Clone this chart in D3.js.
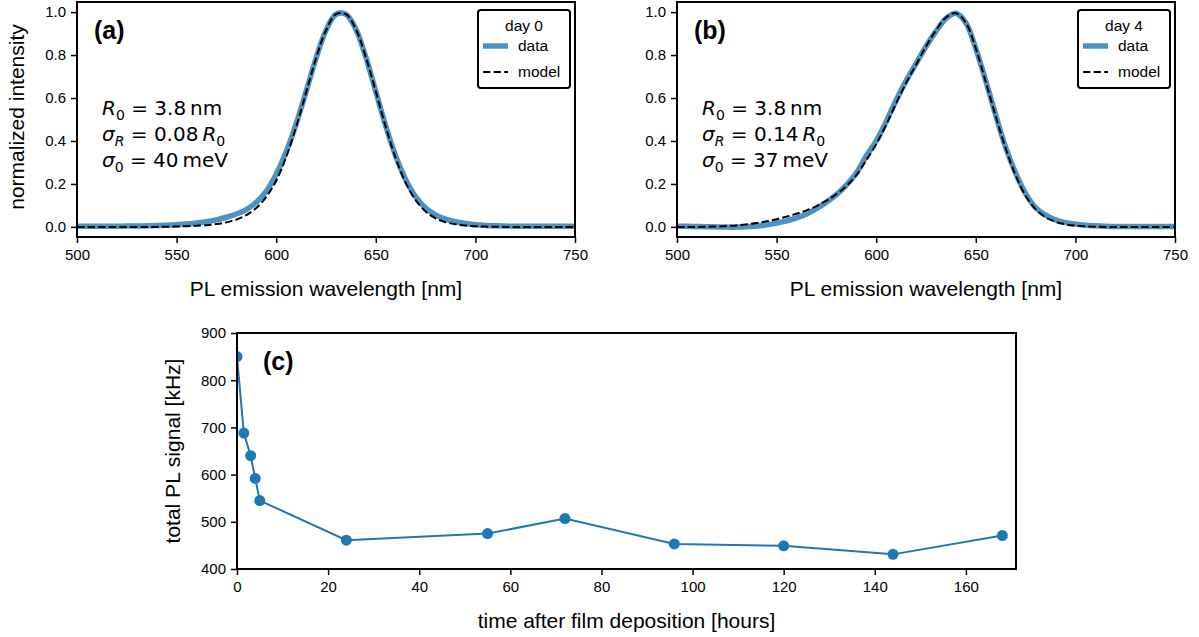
<!DOCTYPE html>
<html>
<head>
<meta charset="utf-8">
<script src="https://cdn.jsdelivr.net/npm/d3@7"></script>
<style>
  body { margin: 0; background: #fff; }
  svg { display: block; }
  text { font-family: "Liberation Sans", Arial, sans-serif; fill: #000; }
  .tick text { font-size: 15px; }
  .tick line { stroke-width: 1.5px; }
  .spine { fill: none; stroke: #000; stroke-width: 2px; }
  .math { font-family: "DejaVu Sans", sans-serif; font-size: 20px; }
</style>
</head>
<body>
<svg width="1199" height="637"></svg>
<script>
// wavelength grid [nm] shared by the spectra
var wavelengths = d3.range(500, 751, 5)

// day 0 spectrum (panel a)
var day0Data = [0.003,0.003,0.003,0.003,0.003,0.004,0.004,0.005,0.006,0.008,
                0.010,0.013,0.018,0.024,0.033,0.045,0.060,0.080,0.115,0.165,
                0.245,0.350,0.480,0.630,0.785,0.915,0.990,0.990,0.920,0.790,
                0.630,0.470,0.330,0.220,0.140,0.088,0.056,0.036,0.024,0.016,
                0.010,0.007,0.005,0.004,0.003,0.003,0.003,0.003,0.003,0.003,0.003]
var day0Model = [0,0,0,0,0,0,0,0,0,0.001,
                 0.002,0.003,0.005,0.008,0.013,0.021,0.034,0.055,0.088,0.140,
                 0.215,0.325,0.465,0.625,0.785,0.915,0.990,0.990,0.920,0.790,
                 0.630,0.465,0.320,0.205,0.125,0.072,0.040,0.022,0.012,0.006,
                 0.003,0.0015,0.001,0,0,0,0,0,0,0,0]

// day 4 spectrum (panel b)
var day4Data = [0.003,0.003,0.002,0.001,0.000,-0.001,-0.001,0.001,0.004,0.010,
                0.018,0.028,0.042,0.060,0.085,0.115,0.150,0.195,0.250,0.330,
                0.400,0.490,0.590,0.680,0.760,0.840,0.910,0.970,0.995,0.950,
                0.830,0.680,0.520,0.370,0.250,0.155,0.090,0.055,0.033,0.020,
                0.013,0.008,0.005,0.003,0.002,0.002,0.002,0.002,0.002,0.002,0.002]
var day4Model = [0,0,0,0.001,0.002,0.004,0.007,0.012,0.018,0.026,
                 0.036,0.048,0.061,0.077,0.097,0.122,0.152,0.190,0.240,0.310,
                 0.385,0.475,0.575,0.670,0.755,0.840,0.915,0.975,0.995,0.950,
                 0.830,0.675,0.515,0.365,0.240,0.145,0.083,0.045,0.024,0.012,
                 0.006,0.003,0.001,0,0,0,0,0,0,0,0]

// total PL signal vs time (panel c)
var hours = [0, 1.5, 3, 4, 5, 24, 55, 72, 96, 120, 144, 168]
var signal = [850, 688, 640, 592, 545, 461, 475, 507, 453, 449, 431, 471]

var spectrumTicksY = [0, 0.2, 0.4, 0.6, 0.8, 1.0]
var spectrumTicksX = [500, 550, 600, 650, 700, 750]
var timeTicksX = [0, 20, 40, 60, 80, 100, 120, 140, 160]
var signalTicksY = [400, 500, 600, 700, 800, 900]

var dataColor = '#4c92c3',
    lineColor = '#1f77b4'

var svg = d3.select('svg')

function frame(g, x0, x1, y0, y1){
    g.append('rect').attr('class','spine')
        .attr('x', x0).attr('y', y0)
        .attr('width', x1 - x0).attr('height', y1 - y0)
}

function styleAxis(sel){
    sel.select('.domain').remove()
    sel.selectAll('.tick line').attr('stroke','#000')
}

function spectrumPanel(opts){
    var g = svg.append('g')
    var x = d3.scaleLinear().domain([500, 750]).range([opts.x0, opts.x1])
    var y = d3.scaleLinear().domain([-0.047, 1.047]).range([237, 2])

    var line = d3.line()
        .x((d,i)=>x(wavelengths[i]))
        .y(d=>y(d))
        .curve(d3.curveCatmullRom)

    var clip = 'clip' + opts.tag
    g.append('clipPath').attr('id', clip)
        .append('rect').attr('x', opts.x0).attr('y', 2)
        .attr('width', opts.x1 - opts.x0).attr('height', 235)

    g.append('path').datum(opts.data)
        .attr('clip-path','url(#' + clip + ')')
        .attr('d', line)
        .attr('fill','none').attr('stroke', dataColor)
        .attr('stroke-width', 5.5).attr('stroke-linejoin','round')

    g.append('path').datum(opts.model)
        .attr('clip-path','url(#' + clip + ')')
        .attr('d', line)
        .attr('fill','none').attr('stroke','#000')
        .attr('stroke-width', 2).attr('stroke-dasharray','7.4,3.2')

    g.append('g').attr('transform','translate(0,237)')
        .call(d3.axisBottom(x).tickValues(spectrumTicksX).tickSize(6).tickPadding(6).tickFormat(d3.format('d')))
        .call(styleAxis)

    g.append('g').attr('transform','translate(' + opts.x0 + ',0)')
        .call(d3.axisLeft(y).tickValues(spectrumTicksY).tickSize(6).tickPadding(5).tickFormat(d3.format('.1f')))
        .call(styleAxis)

    frame(g, opts.x0, opts.x1, 2, 237)

    g.append('text')
        .attr('x', (opts.x0 + opts.x1)/2).attr('y', 296)
        .attr('text-anchor','middle').style('font-size','21px')
        .text('PL emission wavelength [nm]')

    g.append('text')
        .attr('x', opts.x0 + 17).attr('y', 39)
        .style('font-size','25px').style('font-weight','bold')
        .text(opts.label)

    // fit parameters, mathtext style: i = italic, s = subscript
    var params = [
        [['R','i'],['0','s'],[' = 3.8\u2009nm','n']],
        [['σ','i'],['R','si'],[' = ' + opts.sigmaR + '\u2009','n'],['R','i'],['0','s']],
        [['σ','i'],['0','s'],[' = ' + opts.sigma0 + '\u2009meV','n']]
    ]
    params.forEach((parts,row)=>{
        var t = g.append('text').attr('class','math')
            .attr('x', opts.x0 + 25).attr('y', 115 + row*26)
        var shift = 0
        parts.forEach(p=>{
            var s = t.append('tspan').text(p[0])
            var sub = p[1].indexOf('s') >= 0
            if(p[1].indexOf('i') >= 0) s.style('font-style','italic')
            if(sub) s.style('font-size','14px')
            var want = sub ? 5 : 0
            if(want != shift) s.attr('dy', want - shift)
            shift = want
        })
    })

    // legend
    var lx = opts.x1 - 97, ly = 10
    var leg = g.append('g')
    leg.append('rect').attr('x', lx).attr('y', ly).attr('width', 92).attr('height', 78)
        .attr('rx', 3).attr('fill','#fff').attr('stroke','#000').attr('stroke-width', 2)
    leg.append('text').attr('x', lx + 46).attr('y', ly + 21)
        .attr('text-anchor','middle').style('font-size','15.5px').text(opts.title)
    leg.append('line').attr('x1', lx + 5).attr('x2', lx + 30).attr('y1', ly + 36).attr('y2', ly + 36)
        .attr('stroke', dataColor).attr('stroke-width', 5.5)
    leg.append('text').attr('x', lx + 40).attr('y', ly + 41).style('font-size','15.5px').text('data')
    leg.append('line').attr('x1', lx + 5).attr('x2', lx + 30).attr('y1', ly + 62).attr('y2', ly + 62)
        .attr('stroke','#000').attr('stroke-width', 2).attr('stroke-dasharray','7.4,3.2')
    leg.append('text').attr('x', lx + 40).attr('y', ly + 67).style('font-size','15.5px').text('model')
}

spectrumPanel({tag:'a', x0:77, x1:575, data:day0Data, model:day0Model, label:'(a)',
               title:'day 0', sigmaR:'0.08', sigma0:'40'})
spectrumPanel({tag:'b', x0:677, x1:1175, data:day4Data, model:day4Model, label:'(b)',
               title:'day 4', sigmaR:'0.14', sigma0:'37'})

svg.append('text')
    .attr('transform','translate(24,117)rotate(-90)')
    .attr('text-anchor','middle').style('font-size','21px')
    .text('normalized intensity')

// panel (c)
var gc = svg.append('g')
var xc = d3.scaleLinear().domain([0, 171]).range([237, 1016])
var yc = d3.scaleLinear().domain([400, 900]).range([569, 333])

var points = hours.map((h,i)=>({h:h, v:signal[i]}))

gc.append('clipPath').attr('id','clipc')
    .append('rect').attr('x', 237).attr('y', 333).attr('width', 779).attr('height', 236)

gc.append('path').datum(points)
    .attr('d', d3.line().x(d=>xc(d.h)).y(d=>yc(d.v)))
    .attr('fill','none').attr('stroke', lineColor).attr('stroke-width', 2)

gc.append('g').attr('clip-path','url(#clipc)')
    .selectAll('circle').data(points).enter().append('circle')
    .attr('cx', d=>xc(d.h)).attr('cy', d=>yc(d.v))
    .attr('r', 5.5).attr('fill', lineColor)

gc.append('g').attr('transform','translate(0,569)')
    .call(d3.axisBottom(xc).tickValues(timeTicksX).tickSize(6).tickPadding(6))
    .call(styleAxis)
gc.append('g').attr('transform','translate(237,0)')
    .call(d3.axisLeft(yc).tickValues(signalTicksY).tickSize(6).tickPadding(5))
    .call(styleAxis)

frame(gc, 237, 1016, 333, 569)

gc.append('text').attr('x', 263).attr('y', 370)
    .style('font-size','25px').style('font-weight','bold').text('(c)')

gc.append('text').attr('x', 626.5).attr('y', 628)
    .attr('text-anchor','middle').style('font-size','21px')
    .text('time after film deposition [hours]')

gc.append('text')
    .attr('transform','translate(180,451)rotate(-90)')
    .attr('text-anchor','middle').style('font-size','21px')
    .text('total PL signal [kHz]')
</script>
</body>
</html>
